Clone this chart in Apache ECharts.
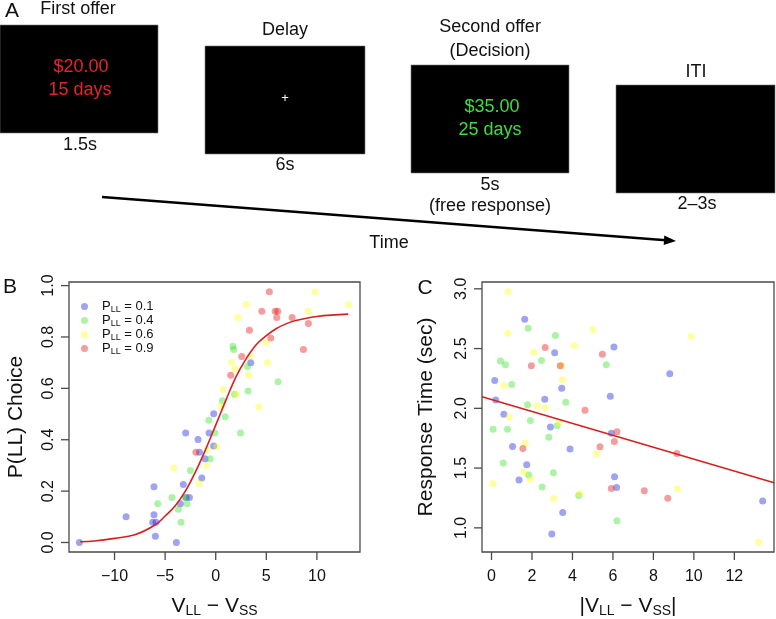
<!DOCTYPE html>
<html><head><meta charset="utf-8">
<script src="https://cdn.jsdelivr.net/npm/echarts@6/dist/echarts.min.js"></script>
<style>html,body{margin:0;padding:0;background:#fff}#c{width:776px;height:619px}</style>
</head><body><div id="c"></div>
<script>
// ---------- Panel B data: P(LL) choice vs V_LL - V_SS ----------
const legendNames = ['0.1', '0.4', '0.6', '0.9'];
const bP01 = [[-13.47,0.0],[-8.86,0.10],[-6.1,0.217],[-6.1,0.108],[-6.23,0.079],[-5.9,0.079],[-5.96,0.024],[-3.89,0.0],[-3.49,0.151],[-3.2,0.226],[-2.97,0.426],[-2.93,0.175],[-2.6,0.175],[-1.75,0.401],[-1.6,0.351],[-1.38,0.251],[-1.05,0.326],[-0.66,0.426],[-0.2,0.501],[-0.2,0.376],[3.46,0.70]];
const bP04 = [[-5.73,0.151],[-4.32,0.175],[-3.69,0.129],[-3.43,0.079],[-2.5,0.28],[-3.03,0.175],[-2.83,0.151],[-0.68,0.476],[-0.54,0.326],[-0.08,0.426],[0.66,0.552],[0.94,0.489],[1.7,0.764],[1.77,0.751],[1.85,0.577],[2.45,0.426],[3.13,0.685],[3.2,0.59],[6.16,0.626]];
const bP06 = [[-4.15,0.29],[-1.66,0.231],[-0.94,0.30],[-0.85,0.362],[0.1,0.374],[0.53,0.53],[0.72,0.596],[1.56,0.702],[1.9,0.676],[2.04,0.577],[2.2,0.876],[3.02,0.926],[3.25,0.652],[3.42,0.726],[4.27,0.527],[4.97,0.778],[5.12,0.70],[9.16,0.901],[9.82,0.976],[13.15,0.926]];
const bP09 = [[-1.96,0.351],[1.48,0.651],[2.57,0.724],[3.33,0.826],[4.56,0.90],[5.3,0.976],[5.44,0.796],[5.88,0.90],[6.13,0.90],[6.03,0.876],[7.55,0.876],[8.67,0.751],[9.16,0.852]];
const bFit = [[-13.4,0.003],[-12,0.006],[-10,0.016],[-8,0.03],[-6,0.068],[-5,0.103],[-4,0.143],[-3,0.2],[-2,0.275],[-1,0.362],[0,0.457],[1,0.553],[2,0.645],[3,0.715],[4,0.77],[5,0.805],[6,0.833],[7,0.852],[8,0.865],[10,0.88],[13.1,0.889]];
const bXTicks = [-10, -5, 0, 5, 10];
const bYTicks = [0, 0.2, 0.4, 0.6, 0.8, 1.0];

// ---------- Panel C data: response time vs |V_LL - V_SS| ----------
const cP01 = [[0.16,2.233],[0.21,2.07],[0.61,1.95],[1.04,1.68],[1.36,1.40],[1.64,2.746],[1.74,1.527],[2.63,2.075],[2.91,1.843],[2.98,0.948],[3.12,2.465],[3.47,2.168],[3.52,1.128],[3.88,1.66],[5.87,2.102],[5.92,1.791],[6.05,2.514],[6.08,1.428],[6.18,1.338],[8.81,2.29],[13.4,1.224]];
const cP04 = [[0.08,1.824],[0.44,2.397],[0.69,2.364],[0.58,1.543],[0.79,1.824],[1.0,2.20],[1.78,2.029],[1.81,2.67],[1.84,1.442],[1.92,1.898],[2.47,2.40],[2.5,1.341],[2.83,1.759],[3.06,1.461],[3.16,2.61],[3.24,1.854],[3.67,2.05],[4.31,1.27],[5.67,2.364],[6.2,1.06]];
const cP06 = [[0.08,1.371],[0.61,2.19],[0.82,2.975],[0.81,2.629],[0.87,1.93],[1.66,1.707],[1.61,1.467],[1.92,1.406],[2.09,2.47],[2.25,2.023],[2.65,2.007],[3.07,1.246],[3.32,1.879],[3.45,2.359],[3.5,2.239],[4.08,2.525],[4.36,1.287],[5.01,2.659],[5.18,1.619],[9.86,2.604],[9.19,1.327],[13.2,0.88]];
const cP09 = [[1.55,1.663],[1.97,2.356],[2.65,2.509],[3.4,2.356],[4.62,1.985],[5.36,1.679],[5.48,2.452],[5.92,1.33],[6.07,1.723],[6.2,1.805],[7.55,1.311],[8.71,1.248],[9.16,1.622]];
const cFit = [[-0.47,2.097],[13.96,1.377]];
const cXTicks = [0, 2, 4, 6, 8, 10, 12];
const cYTicks = [1.0, 1.5, 2.0, 2.5, 3.0];

// ---------- Panel A texts ----------
const aTexts = {
  first: ['First offer', '$20.00', '15 days', '1.5s'],
  delay: ['Delay', '+', '6s'],
  second: ['Second offer', '(Decision)', '$35.00', '25 days', '5s', '(free response)'],
  iti: ['ITI', '2–3s'],
  time: 'Time'
};

const colors = ['rgba(15,25,225,0.5)', 'rgba(50,225,30,0.5)', 'rgba(255,255,15,0.5)', 'rgba(230,10,10,0.5)'];
const FONT = '"Liberation Sans", Arial, Helvetica, sans-serif';
const lineRed = '#d62020';
const axisCol = '#4a4a4a';
const bRange = { xMin: -14.5, xMax: 14.26, yMin: -0.037, yMax: 1.014 };
const cRange = { xMin: -0.47, xMax: 13.96, yMin: 0.798, yMax: 3.057 };

const minus = v => (v < 0 ? '\u2212' + Math.abs(v) : String(v));

function txt(x, y, text, size, fill) {
  return { type: 'text', x: x, y: y, silent: true,
    style: { text: text, fill: fill || '#111', fontSize: size, fontFamily: FONT, align: 'center', verticalAlign: 'middle' } };
}
function box(x, y, w, h) {
  return { type: 'rect', silent: true, shape: { x: x, y: y, width: w, height: h }, style: { fill: '#000', stroke: '#777', lineWidth: 0.6 } };
}

const graphics = [
  txt(12, 11, 'A', 21), txt(10, 287, 'B', 21), txt(425, 288, 'C', 21),
  box(0, 25, 158, 108), box(205, 46, 160, 108), box(411, 65, 158, 108), box(616, 85, 159, 108),
  txt(78, 9, aTexts.first[0], 18), txt(81, 67, aTexts.first[1], 18, '#e8232a'), txt(80, 90, aTexts.first[2], 18, '#e8232a'), txt(80, 145, aTexts.first[3], 18),
  txt(285, 30, aTexts.delay[0], 18), txt(285, 98, aTexts.delay[1], 13, '#fff'), txt(285, 165, aTexts.delay[2], 18),
  txt(490, 27, aTexts.second[0], 18), txt(490, 51, aTexts.second[1], 18), txt(492, 107, aTexts.second[2], 18, '#3fdc3f'), txt(490, 130, aTexts.second[3], 18, '#3fdc3f'), txt(490, 185, aTexts.second[4], 18), txt(490, 206, aTexts.second[5], 18),
  txt(696, 72, aTexts.iti[0], 18), txt(697, 204, aTexts.iti[1], 18),
  txt(389, 243, aTexts.time, 18),
  { type: 'line', silent: true, shape: { x1: 102, y1: 197, x2: 666, y2: 240.2 }, style: { stroke: '#000', lineWidth: 2.6 } },
  { type: 'polygon', silent: true, shape: { points: [[676, 241], [663.7, 245], [664.3, 235.4]] }, style: { fill: '#000' } }
];

const nameStyle = () => ({
  fontSize: 21, color: '#111', fontFamily: FONT,
  rich: {
    v: { fontSize: 21, fontFamily: FONT, color: '#111', lineHeight: 24 },
    s: { fontSize: 14, fontFamily: FONT, color: '#111', lineHeight: 11, verticalAlign: 'bottom' }
  }
});

function xAx(gi, r, ticks, name) {
  return {
    type: 'value', gridIndex: gi, min: r.xMin, max: r.xMax, position: 'bottom',
    axisLine: { show: false, onZero: false }, splitLine: { show: false }, axisTick: { show: false },
    axisLabel: { customValues: ticks, margin: 17, formatter: v => minus(v), fontSize: 16, color: '#111', fontFamily: FONT },
    name: name, nameLocation: 'middle', nameGap: 42, nameTextStyle: nameStyle()
  };
}
function yAx(gi, r, ticks, name, gap) {
  return {
    type: 'value', gridIndex: gi, min: r.yMin, max: r.yMax, position: 'left',
    axisLine: { show: false, onZero: false }, splitLine: { show: false }, axisTick: { show: false },
    axisLabel: { customValues: ticks, rotate: 90, margin: 12, formatter: v => v.toFixed(1), fontSize: 16, color: '#111', fontFamily: FONT },
    name: name, nameLocation: 'middle', nameRotate: 90, nameGap: gap, nameTextStyle: nameStyle()
  };
}
function scat(name, data, i, gi) {
  return { type: 'scatter', name: name, xAxisIndex: gi, yAxisIndex: gi, data: data, symbol: 'circle', symbolSize: 7,
    itemStyle: { color: colors[i] }, z: 2, silent: true };
}

const chart = echarts.init(document.getElementById('c'), null, { renderer: 'canvas' });
try {
  chart.setOption({
    animation: false,
    backgroundColor: '#fff',
    graphic: graphics,
    grid: [
      { left: 69, top: 282, width: 291, height: 276 },
      { left: 482, top: 282, width: 292, height: 276 }
    ],
    xAxis: [
      xAx(0, bRange, bXTicks, '{v|V}{s|LL}{v| \u2212 V}{s|SS}'),
      xAx(1, cRange, cXTicks, '{v||V}{s|LL}{v| \u2212 V}{s|SS}{v||}')
    ],
    yAxis: [
      yAx(0, bRange, bYTicks, 'P(LL) Choice', 42),
      yAx(1, cRange, cYTicks, 'Response Time (sec)', 45)
    ],
    legend: {
      data: legendNames, orient: 'vertical', left: 76, top: 295, itemWidth: 25, itemHeight: 7, itemGap: 0,
      icon: 'circle', selectedMode: false,
      formatter: n => '{p|P}{s|LL}{p| = ' + n + '}',
      textStyle: { fontSize: 13, fontFamily: FONT, color: '#111',
        rich: { p: { fontSize: 13, fontFamily: FONT, color: '#111', lineHeight: 15 },
                s: { fontSize: 9, fontFamily: FONT, color: '#111', lineHeight: 9, verticalAlign: 'bottom' } } }
    },
    series: [
      scat('0.1', bP01, 0, 0), scat('0.4', bP04, 1, 0), scat('0.6', bP06, 2, 0), scat('0.9', bP09, 3, 0),
      { type: 'line', name: 'fitB', xAxisIndex: 0, yAxisIndex: 0, data: bFit, smooth: 0.4, showSymbol: false, symbol: 'none',
        lineStyle: { color: lineRed, width: 1.6 }, z: 3, silent: true },
      scat('c0.1', cP01, 0, 1), scat('c0.4', cP04, 1, 1), scat('c0.6', cP06, 2, 1), scat('c0.9', cP09, 3, 1),
      { type: 'line', name: 'fitC', xAxisIndex: 1, yAxisIndex: 1, data: cFit, showSymbol: false, symbol: 'none',
        lineStyle: { color: lineRed, width: 1.6 }, z: 3, silent: true }
    ]
  });
} catch (e) { /* keep going so the frames are still added */ }

// Frame boxes and outward tick marks, positioned through the chart's own axis scales.
try {
  const extra = [];
  const panels = [
    { gi: 0, r: bRange, xt: bXTicks, yt: bYTicks },
    { gi: 1, r: cRange, xt: cXTicks, yt: cYTicks }
  ];
  panels.forEach(p => {
    const tl = chart.convertToPixel({ gridIndex: p.gi }, [p.r.xMin, p.r.yMax]);
    const br = chart.convertToPixel({ gridIndex: p.gi }, [p.r.xMax, p.r.yMin]);
    extra.push({ type: 'rect', silent: true, z: 10,
      shape: { x: tl[0], y: tl[1], width: br[0] - tl[0], height: br[1] - tl[1] },
      style: { fill: 'none', stroke: axisCol, lineWidth: 1.3 } });
    p.xt.forEach(t => {
      const q = chart.convertToPixel({ gridIndex: p.gi }, [t, p.r.yMin]);
      extra.push({ type: 'line', silent: true, z: 10, shape: { x1: q[0], y1: br[1], x2: q[0], y2: br[1] + 8 }, style: { stroke: axisCol, lineWidth: 1.3 } });
    });
    p.yt.forEach(t => {
      const q = chart.convertToPixel({ gridIndex: p.gi }, [p.r.xMin, t]);
      extra.push({ type: 'line', silent: true, z: 10, shape: { x1: tl[0], y1: q[1], x2: tl[0] - 8, y2: q[1] }, style: { stroke: axisCol, lineWidth: 1.3 } });
    });
  });
  chart.setOption({ graphic: graphics.concat(extra) });
} catch (e) { /* ignore */ }
</script></body></html>
